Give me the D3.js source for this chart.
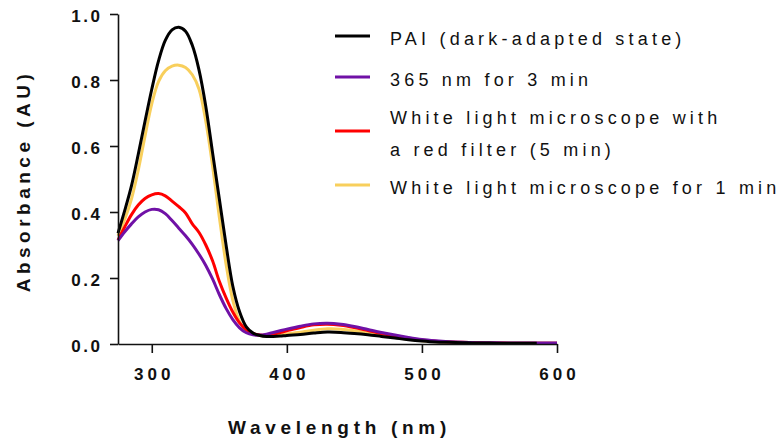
<!DOCTYPE html>
<html>
<head>
<meta charset="utf-8">
<script src="https://cdn.jsdelivr.net/npm/d3@7"></script>
<style>
  html, body { margin: 0; padding: 0; background: #fff; }
  svg { display: block; font-family: "Liberation Sans", Arial, sans-serif; }
</style>
</head>
<body>
<svg id="chart" width="781" height="444"></svg>
<script>
// Wavelength grid (nm)
const wavelengths = [275, 280, 285, 290, 295, 300, 305, 310, 315, 320, 325, 330, 335, 340, 345,
  350, 355, 360, 365, 370, 375, 380, 385, 390, 395, 400, 410, 420, 430, 440, 450, 460, 470,
  480, 490, 500, 510, 520, 530, 540, 550, 560, 570, 580, 585, 590, 600];

// Absorbance (AU) for each sample
const pai = [0.336, 0.405, 0.480, 0.575, 0.675, 0.772, 0.858, 0.920, 0.952, 0.960, 0.948, 0.905, 0.830, 0.720, 0.580,
  0.440, 0.300, 0.175, 0.098, 0.052, 0.033, 0.026, 0.023, 0.023, 0.024, 0.026, 0.029, 0.033, 0.036, 0.035, 0.032, 0.028, 0.023,
  0.018, 0.013, 0.009, 0.006, 0.005, 0.004, 0.003, 0.003, 0.002, 0.002, 0.002, 0.002, null, null];
const uv365 = [0.313, 0.340, 0.364, 0.385, 0.400, 0.408, 0.407, 0.395, 0.374, 0.351, 0.328, 0.302, 0.272, 0.238, 0.197,
  0.150, 0.108, 0.074, 0.049, 0.034, 0.028, 0.027, 0.030, 0.035, 0.040, 0.045, 0.054, 0.061, 0.063, 0.060, 0.053, 0.044, 0.035,
  0.027, 0.020, 0.014, 0.010, 0.007, 0.005, 0.004, 0.004, 0.003, 0.003, 0.003, 0.003, 0.003, 0.003];
const redFilter = [0.315, 0.355, 0.392, 0.421, 0.441, 0.452, 0.456, 0.449, 0.433, 0.416, 0.397, 0.364, 0.338, 0.300, 0.252,
  0.190, 0.140, 0.097, 0.064, 0.043, 0.032, 0.027, 0.027, 0.030, 0.035, 0.040, 0.050, 0.058, 0.060, 0.057, 0.050, 0.041, 0.032,
  0.024, 0.017, 0.012, 0.008, 0.006, 0.005, 0.004, 0.003, 0.003, 0.002, 0.002, 0.002, 0.002, 0.002];
const white1min = [0.328, 0.378, 0.440, 0.527, 0.630, 0.728, 0.795, 0.828, 0.842, 0.845, 0.838, 0.816, 0.772, 0.675, 0.540,
  0.385, 0.242, 0.132, 0.068, 0.040, 0.030, 0.026, 0.025, 0.026, 0.028, 0.030, 0.036, 0.042, 0.046, 0.045, 0.040, 0.033, 0.026,
  0.020, 0.014, 0.010, 0.007, 0.005, 0.004, 0.003, 0.003, 0.002, 0.002, 0.002, 0.002, 0.002, 0.002];

const xTicks = [300, 400, 500, 600];
const yTicks = [0, 0.2, 0.4, 0.6, 0.8, 1.0];

// Legend order (top to bottom); drawing order is reversed so PAI sits on top
const seriesNames = [
  ["PAI (dark-adapted state)"],
  ["365 nm for 3 min"],
  ["White light microscope with", "a red filter (5 min)"],
  ["White light microscope for 1 min"]
];
const seriesValues = [pai, uv365, redFilter, white1min];
const seriesColors = ["#000000", "#7011a6", "#ff0000", "#f8cf5c"];

const svg = d3.select("#chart");
const x = d3.scaleLinear().domain([275, 600]).range([118, 557]);
const y = d3.scaleLinear().domain([0, 1]).range([344, 14]);

// Curves
const line = d3.line()
  .defined(d => d[1] != null)
  .x(d => x(d[0]))
  .y(d => y(d[1]))
  .curve(d3.curveCatmullRom.alpha(0.5));

const drawOrder = [3, 2, 1, 0];
svg.append("g").selectAll("path")
  .data(drawOrder)
  .join("path")
  .attr("fill", "none")
  .attr("stroke", i => seriesColors[i])
  .attr("stroke-width", 3)
  .attr("stroke-linejoin", "round")
  .attr("d", i => line(wavelengths.map((w, k) => [w, seriesValues[i][k]])));

// Axes
const xAxis = svg.append("g")
  .attr("transform", `translate(0,${y(0)})`)
  .call(d3.axisBottom(x).tickValues(xTicks).tickSize(9).tickSizeOuter(0).tickPadding(15).tickFormat(d3.format("d")));
const yAxis = svg.append("g")
  .attr("transform", `translate(${x(275)},0)`)
  .call(d3.axisLeft(y).tickValues(yTicks).tickSize(8).tickSizeOuter(0).tickPadding(7.5).tickFormat(d3.format(".1f")));

[xAxis, yAxis].forEach(g => {
  g.select(".domain").attr("stroke", "#111").attr("stroke-width", 1.6);
  g.selectAll(".tick line").attr("stroke", "#111").attr("stroke-width", 1.6);
  g.selectAll(".tick text")
    .attr("fill", "#111")
    .style("font-family", "'Liberation Sans', Arial, sans-serif")
    .style("font-size", "17px")
    .style("font-weight", "bold");
});
xAxis.selectAll(".tick text").style("letter-spacing", "4px").attr("dx", "2px");
yAxis.selectAll(".tick text").style("letter-spacing", "2.5px").attr("dy", "0.42em");

// Axis titles
svg.append("text")
  .attr("x", 339.5)
  .attr("y", 434)
  .attr("text-anchor", "middle")
  .attr("fill", "#111")
  .style("font-size", "19px")
  .style("font-weight", "bold")
  .style("letter-spacing", "4.7px")
  .text("Wavelength (nm)");

svg.append("text")
  .attr("transform", "translate(30,181) rotate(-90)")
  .attr("text-anchor", "middle")
  .attr("fill", "#111")
  .style("font-size", "19px")
  .style("font-weight", "bold")
  .style("letter-spacing", "4.5px")
  .text("Absorbance (AU)");

// Legend
const legendY = [];
seriesNames.forEach((lines, i) => {
  if (i === 0) legendY.push(36);
  else legendY.push(legendY[i - 1] + 41 + 13 * ((seriesNames[i - 1].length - 1) + (lines.length - 1)));
});
const lineGap = 32;
const legend = svg.append("g");
seriesNames.forEach((lines, i) => {
  const cy = legendY[i];
  legend.append("line")
    .attr("x1", 335).attr("x2", 370)
    .attr("y1", cy).attr("y2", cy)
    .attr("stroke", seriesColors[i])
    .attr("stroke-width", 3);
  const t = legend.append("text")
    .attr("fill", "#111")
    .style("font-size", "18px")
    .style("letter-spacing", "4.2px");
  lines.forEach((s, k) => {
    t.append("tspan")
      .attr("x", 390)
      .attr("y", cy + 9 - (lines.length - 1) * lineGap / 2 + k * lineGap)
      .text(s);
  });
});
</script>
</body>
</html>
